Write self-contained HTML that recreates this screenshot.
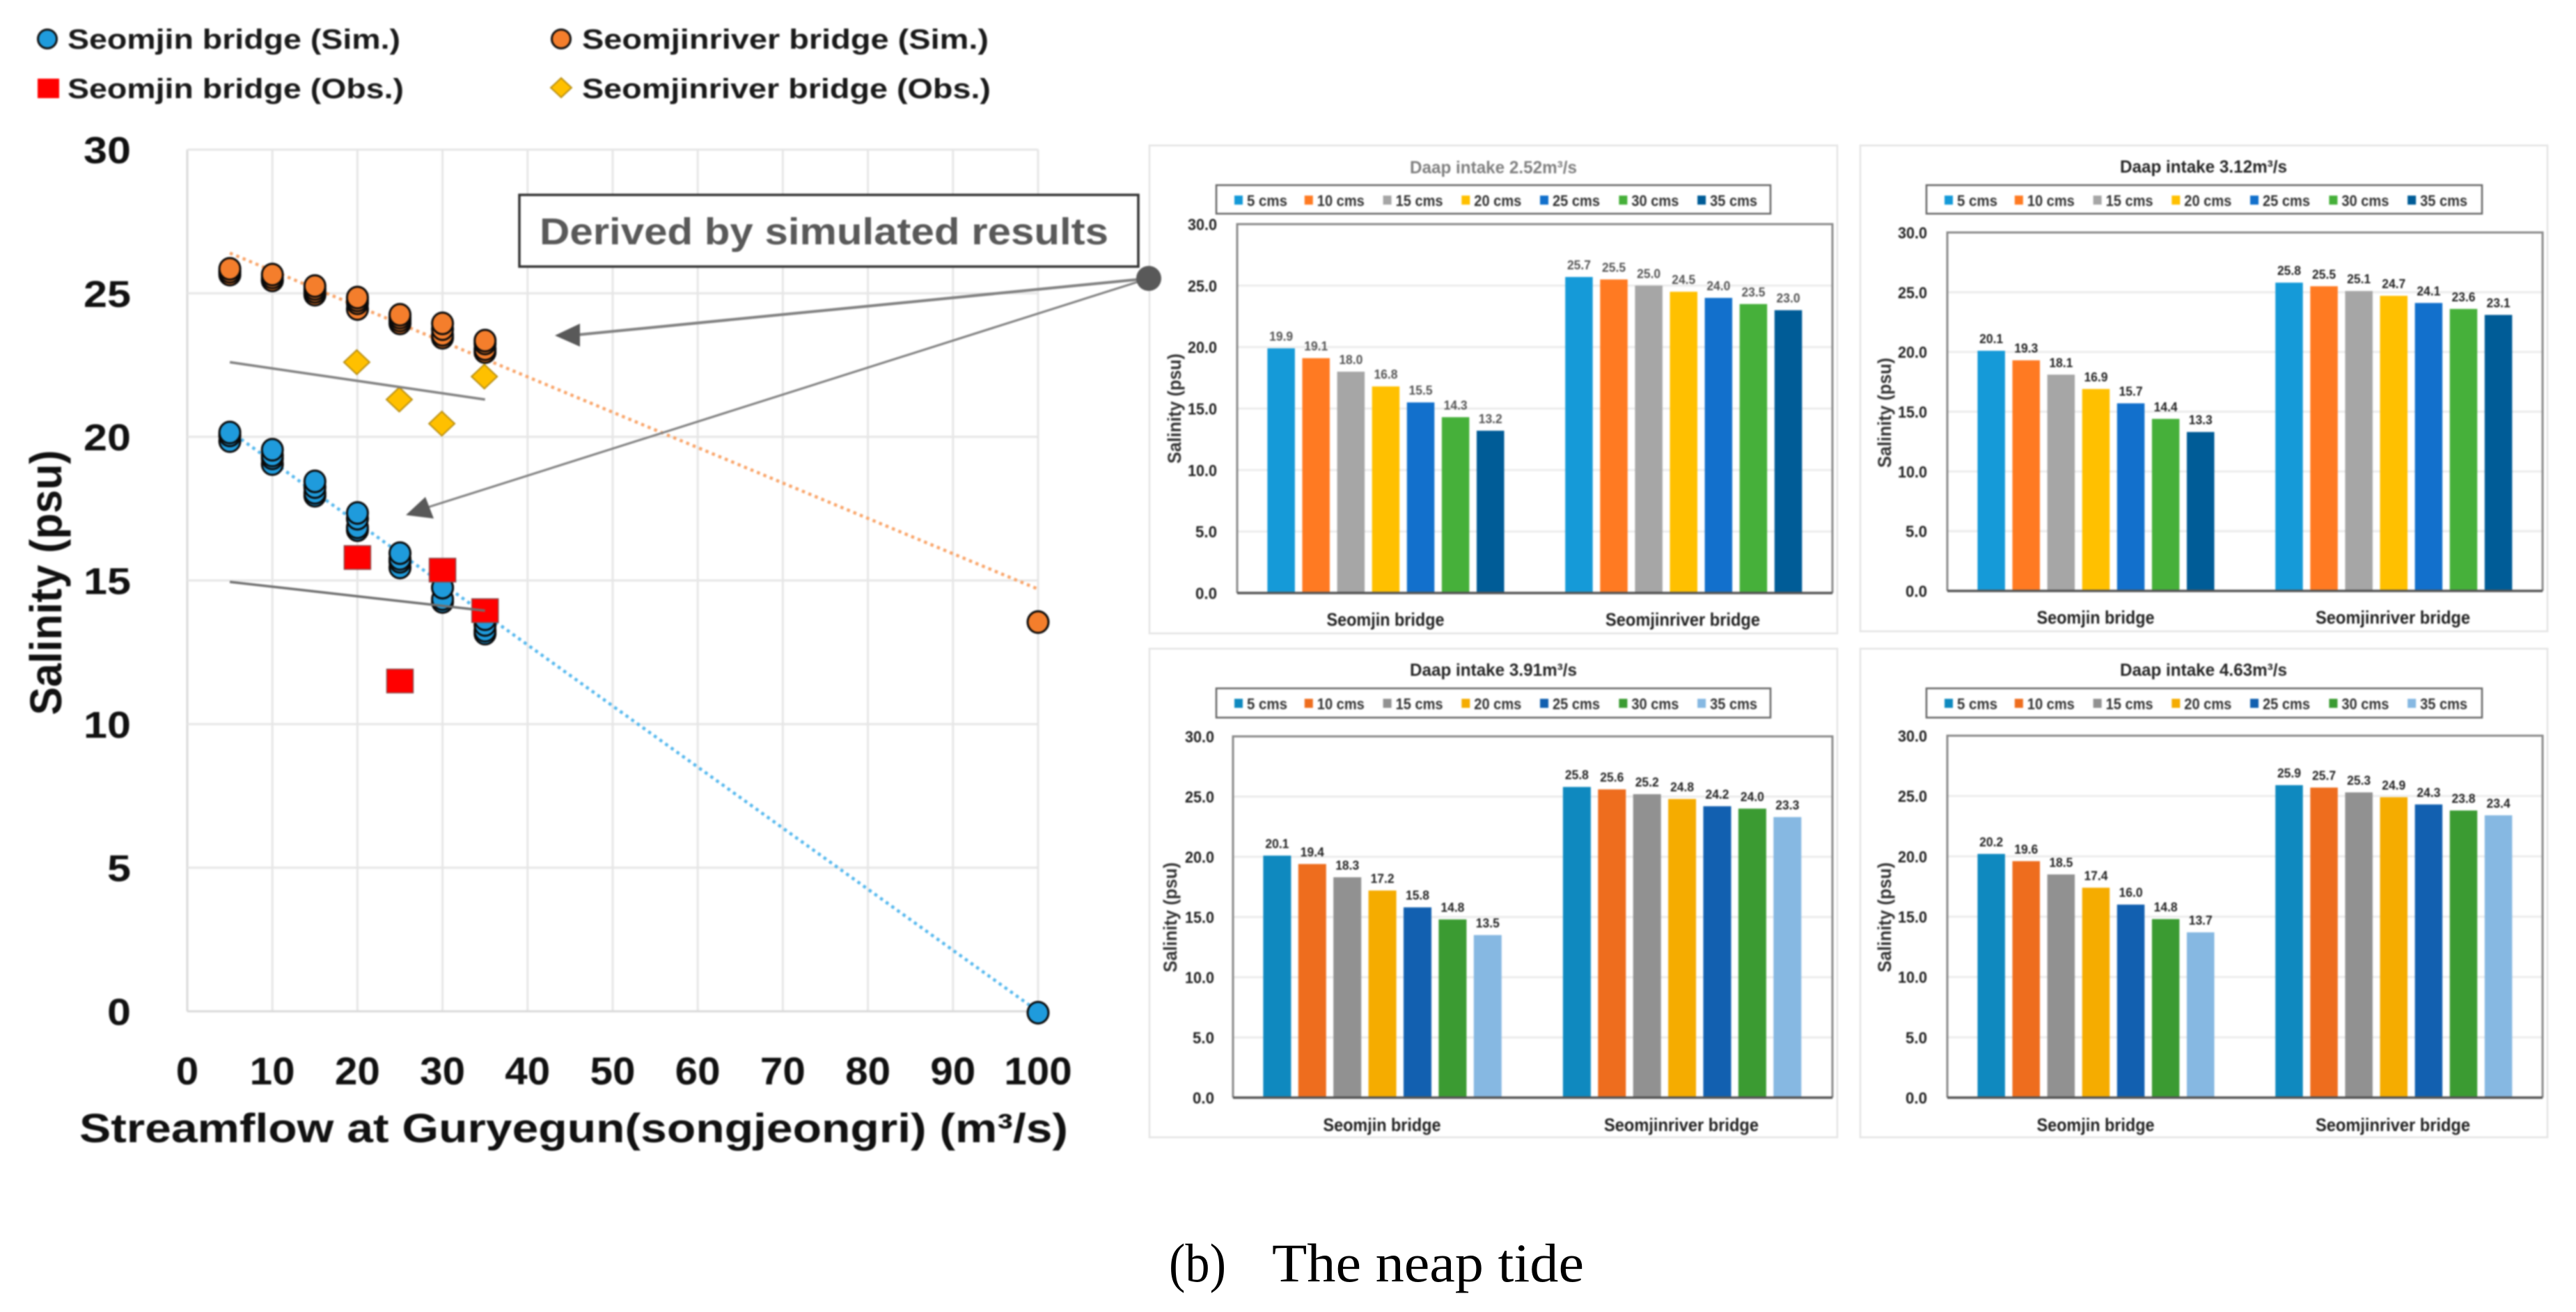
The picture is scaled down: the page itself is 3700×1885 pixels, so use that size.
<!DOCTYPE html>
<html lang="en">
<head>
<meta charset="utf-8">
<title>Salinity versus streamflow — the neap tide</title>
<style>
html,body{margin:0;padding:0;background:#fff;width:3700px;height:1885px;overflow:hidden}
svg{display:block}
text{font-family:"Liberation Sans",sans-serif;font-weight:bold}
.soft{filter:blur(1px)}
</style>
</head>
<body>
<svg id="figure" xmlns="http://www.w3.org/2000/svg" width="3700" height="1885" viewBox="0 0 3700 1885">
  <rect width="3700" height="1885" fill="#fff"/>
  <g id="panels" class="soft"></g>
  <g id="scatter" class="soft"></g>
  <text x="1679" y="1841" font-size="78" textLength="82" lengthAdjust="spacingAndGlyphs" style="font-family:'Liberation Serif',serif;font-weight:normal" fill="#000">(b)</text>
  <text x="1827" y="1841" font-size="78" textLength="448" lengthAdjust="spacingAndGlyphs" style="font-family:'Liberation Serif',serif;font-weight:normal" fill="#000">The neap tide</text>
</svg>
<script>
// ---------- scatter chart data ----------
const flowTicks = [0,10,20,30,40,50,60,70,80,90,100];
const salinityTicks = [0,5,10,15,20,25,30];
const simFlows = [5,10,15,20,25,30,35];
const seomjinSimExtremeFlow = [100];
const seomjinSimExtremeValue = [0];
const riverSimExtremeFlow = [100];
const riverSimExtremeValue = [13.6];
const seomjinObsFlows = [20,25,30,35];
const seomjinObsValues = [15.8,11.5,15.36,13.95];
const riverObsFlows = [20,25,30,35];
const riverObsValues = [22.6,21.3,20.46,22.1];
const seomjinTrendFlows = [5,100];
const seomjinTrendValues = [20.2,0];
const riverTrendFlows = [5,100];
const riverTrendValues = [26.4,14.7];
const seomjinObsTrendFlows = [5,35];
const seomjinObsTrendValues = [14.95,13.95];
const riverObsTrendFlows = [5,35];
const riverObsTrendValues = [22.6,21.3];

// ---------- bar panel data ----------
const barTicks = [0,5,10,15,20,25,30];
const barSeriesLabels = ['5 cms','10 cms','15 cms','20 cms','25 cms','30 cms','35 cms'];
const barCategories = ['Seomjin bridge','Seomjinriver bridge'];
const intakeTitles = ['Daap intake 2.52m³/s','Daap intake 3.12m³/s','Daap intake 3.91m³/s','Daap intake 4.63m³/s'];
const intake1Seomjin = [19.9,19.1,18.0,16.8,15.5,14.3,13.2];
const intake1River   = [25.7,25.5,25.0,24.5,24.0,23.5,23.0];
const intake2Seomjin = [20.1,19.3,18.1,16.9,15.7,14.4,13.3];
const intake2River   = [25.8,25.5,25.1,24.7,24.1,23.6,23.1];
const intake3Seomjin = [20.1,19.4,18.3,17.2,15.8,14.8,13.5];
const intake3River   = [25.8,25.6,25.2,24.8,24.2,24.0,23.3];
const intake4Seomjin = [20.2,19.6,18.5,17.4,16.0,14.8,13.7];
const intake4River   = [25.9,25.7,25.3,24.9,24.3,23.8,23.4];
const seomjinByIntake = [intake1Seomjin,intake2Seomjin,intake3Seomjin,intake4Seomjin];
const riverByIntake = [intake1River,intake2River,intake3River,intake4River];

// ---------- helpers ----------
const NS = 'http://www.w3.org/2000/svg';
function make(tag, props, parent){
  const n = document.createElementNS(NS, tag);
  for (const k in props) n.setAttribute(k, props[k]);
  parent.appendChild(n);
  return n;
}
function label(parent, str, x, y, size, fill, width, anchor, rotate){
  const props = {x:x, y:y, 'font-size':size, fill:fill, 'text-anchor':anchor || 'start'};
  if (width) { props.textLength = width; props.lengthAdjust = 'spacingAndGlyphs'; }
  if (rotate) props.transform = 'rotate(-90 ' + x + ' ' + y + ')';
  const t = make('text', props, parent);
  t.textContent = str;
  return t;
}

// ---------- scatter chart ----------
const sc = document.getElementById('scatter');
const xS = v => 269 + (v / 100) * 1222;
const yS = v => 1453 - (v / 30) * 1238;

function circle(cx, cy, fill, name){
  const c = make('ellipse', {cx:cx, cy:cy + 2, rx:15, ry:15.5, fill:fill, stroke:'#0a0a0a', 'stroke-width':3}, sc);
  
  
}
function square(cx, cy, w, h, name){
  const r = make('rect', {x:cx - w/2, y:cy - h/2, width:w, height:h, fill:'#ff0000', stroke:'#8a4a4a', 'stroke-width':1.5}, sc);
  
  
}
function diamond(cx, cy, w, h, name){
  const p = make('polygon', {points:[cx-w/2,cy, cx,cy-h/2, cx+w/2,cy, cx,cy+h/2].join(' '), fill:'#ffc000', stroke:'#b98f12', 'stroke-width':2}, sc);
  
  
}

flowTicks.forEach(v => {
  const g = make('line', {x1:xS(v), x2:xS(v), y1:yS(30), y2:yS(0), stroke:v === 0 ? '#d9d9d9' : '#e6e6e6', 'stroke-width':3}, sc);
  
  
  const t = label(sc, String(v), xS(v), 1558, 56, '#111', String(v).length * 32.5, 'middle');
  
  
});
salinityTicks.forEach(v => {
  const g = make('line', {x1:xS(0), x2:xS(100), y1:yS(v), y2:yS(v), stroke:v === 0 ? '#d9d9d9' : '#e6e6e6', 'stroke-width':3}, sc);
  
  
  const t = label(sc, String(v), 188, yS(v) + 19.5, 54, '#111', String(v).length * 34, 'end');
  
  
});

const xTitle = label(sc, 'Streamflow at Guryegun(songjeongri) (m³/s)', 114, 1641, 58, '#111', 1420);


const yTitle = label(sc, 'Salinity (psu)', 88, 837, 64, '#111', 381, 'middle', true);



const riverTrend = make('line', {x1:xS(riverTrendFlows[0]), y1:yS(riverTrendValues[0]), x2:xS(riverTrendFlows[1]), y2:yS(riverTrendValues[1]), stroke:'#f9a56a', 'stroke-width':4.5, 'stroke-dasharray':'4.5 5.5'}, sc);


const seomjinTrend = make('line', {x1:xS(seomjinTrendFlows[0]), y1:yS(seomjinTrendValues[0]), x2:xS(seomjinTrendFlows[1]), y2:yS(seomjinTrendValues[1]), stroke:'#55b8ee', 'stroke-width':4.5, 'stroke-dasharray':'4.5 5.5'}, sc);



// simulated points: every flow of every intake panel, lowest value first so the highest sits on top
function simColumn(series, flowIndex){
  return series.map(s => s[flowIndex]).sort((a,b) => a - b);
}
simFlows.forEach((f, i) => {
  simColumn(riverByIntake, i).forEach(v => circle(xS(f), yS(v), '#f47e2c', 'seomjinriver-sim-point'));
  simColumn(seomjinByIntake, i).forEach(v => circle(xS(f), yS(v), '#1f9bdc', 'seomjin-sim-point'));
});
riverSimExtremeFlow.forEach((f, i) => circle(xS(f), yS(riverSimExtremeValue[i]), '#f47e2c', 'seomjinriver-sim-point'));
seomjinSimExtremeFlow.forEach((f, i) => circle(xS(f), yS(seomjinSimExtremeValue[i]), '#1f9bdc', 'seomjin-sim-point'));

riverObsFlows.forEach((f, i) => diamond(xS(f) - 1, yS(riverObsValues[i]), 37, 35, 'seomjinriver-obs-point'));
seomjinObsFlows.forEach((f, i) => square(xS(f), yS(seomjinObsValues[i]), 38, 34, 'seomjin-obs-point'));

const riverObsTrend = make('line', {x1:xS(riverObsTrendFlows[0]), y1:yS(riverObsTrendValues[0]), x2:xS(riverObsTrendFlows[1]), y2:yS(riverObsTrendValues[1]), stroke:'#808080', 'stroke-width':3.5}, sc);


const seomjinObsTrend = make('line', {x1:xS(seomjinObsTrendFlows[0]), y1:yS(seomjinObsTrendValues[0]), x2:xS(seomjinObsTrendFlows[1]), y2:yS(seomjinObsTrendValues[1]), stroke:'#6f6f6f', 'stroke-width':3.5}, sc);



// legend
const lgA = make('ellipse', {cx:68, cy:56, rx:13.5, ry:13.5, fill:'#1f9bdc', stroke:'#111', 'stroke-width':3}, sc);


const lgB = make('ellipse', {cx:806, cy:56, rx:13.5, ry:13.5, fill:'#f47e2c', stroke:'#111', 'stroke-width':3}, sc);


const lgC = make('rect', {x:54, y:113, width:31, height:28, fill:'#ff0000'}, sc);


const lgD = make('polygon', {points:'791,126 806,112 821,126 806,140', fill:'#ffc000', stroke:'#b98f12', 'stroke-width':2}, sc);


const ltA = label(sc, 'Seomjin bridge (Sim.)', 97, 70, 40, '#1a1a1a', 478);


const ltB = label(sc, 'Seomjinriver bridge (Sim.)', 836, 70, 40, '#1a1a1a', 584);


const ltC = label(sc, 'Seomjin bridge (Obs.)', 97, 141, 40, '#1a1a1a', 483);


const ltD = label(sc, 'Seomjinriver bridge (Obs.)', 836, 141, 40, '#1a1a1a', 587);



// callout and arrows
const calloutBox = make('rect', {x:746, y:280, width:889, height:103, fill:'#fff', stroke:'#333', 'stroke-width':3.5}, sc);


const calloutText = label(sc, 'Derived by simulated results', 775, 351, 54, '#595959', 817);


const arrowLineA = make('line', {x1:1650, y1:400, x2:830, y2:481, stroke:'#808080', 'stroke-width':4}, sc);


const arrowHeadA = make('polygon', {points:'797,482 833,465 833,498', fill:'#595959'}, sc);


const arrowLineB = make('line', {x1:1650, y1:400, x2:614, y2:729, stroke:'#808080', 'stroke-width':3}, sc);


const arrowHeadB = make('polygon', {points:'583,740 611,714 623,745', fill:'#595959'}, sc);


const calloutDot = make('circle', {cx:1650, cy:400, r:18, fill:'#595959'}, sc);



// ---------- bar panels ----------
const brightColors = ['#159ad8','#ff7a22','#a6a6a6','#ffc000','#1270cc','#46b03a','#005c97'];
const deepColors = ['#0f89bf','#ee6d1e','#919191','#f5ac00','#1260b0','#3b9b32','#86b8e2'];
const swatchOffsets = [0,100.8,213.6,326.3,439,552.4,665.1];
const panelLayouts = [
  {bx:1651,by:209,bw:988,bh:701,px:1777,pr:2632,pt:322,pb:852,titleY:249,titleFill:'#808080',lgX:1747,lgY:266,lgW:796,lgH:41,tickR:1748,yTitleX:1696,yTitleY:587,barA:1820.4,barB:2248.2,step:50.1,barW:39.5,catY:899,catA:1990,catB:2417,titleX:2145,colors:brightColors},
  {bx:2672,by:209,bw:987,bh:698,px:2797,pr:3652,pt:334,pb:849,titleY:248,titleFill:'#262626',lgX:2767,lgY:266,lgW:798,lgH:41,tickR:2768,yTitleX:2716,yTitleY:593,barA:2840.4,barB:3268.2,step:50.1,barW:39.5,catY:896,catA:3010,catB:3437,titleX:3165,colors:brightColors},
  {bx:1651,by:932,bw:988,bh:702,px:1771,pr:2632,pt:1058,pb:1577,titleY:971,titleFill:'#262626',lgX:1747,lgY:989,lgW:796,lgH:42,tickR:1744,yTitleX:1690,yTitleY:1318,barA:1814.4,barB:2244.9,step:50.4,barW:40,catY:1625,catA:1985,catB:2415,titleX:2145,colors:deepColors},
  {bx:2672,by:932,bw:987,bh:702,px:2797,pr:3652,pt:1057,pb:1577,titleY:971,titleFill:'#262626',lgX:2767,lgY:989,lgW:798,lgH:42,tickR:2768,yTitleX:2716,yTitleY:1318,barA:2840.4,barB:3268.2,step:50.1,barW:39.5,catY:1625,catA:3010,catB:3437,titleX:3165,colors:deepColors}
];
const panelsRoot = document.getElementById('panels');

panelLayouts.forEach((L, idx) => {
  const g = make('g', {}, panelsRoot);
  
  

  const frame = make('rect', {x:L.bx, y:L.by, width:L.bw, height:L.bh, fill:'#fff', stroke:'#e4e4e4', 'stroke-width':2.5}, g);
  
  

  const title = label(g, intakeTitles[idx], L.titleX, L.titleY, 25, L.titleFill, 240, 'middle');
  
  

  const lgBox = make('rect', {x:L.lgX, y:L.lgY, width:L.lgW, height:L.lgH, fill:'#fff', stroke:'#666', 'stroke-width':2.5}, g);
  
  
  barSeriesLabels.forEach((name, i) => {
    const sx = L.lgX + 26 + swatchOffsets[i];
    const sw = make('rect', {x:sx, y:L.lgY + 15, width:12, height:13, fill:L.colors[i]}, g);
    
    
    const t = label(g, name, sx + 18, L.lgY + 30, 22, '#333', i === 0 ? 58 : 68);
    
    
  });

  const yB = v => L.pb - (v / 30) * (L.pb - L.pt);

  barTicks.forEach(v => {
    if (v > 0 && v < 30) {
      const gl = make('line', {x1:L.px, x2:L.pr, y1:yB(v), y2:yB(v), stroke:'#ececec', 'stroke-width':3}, g);
      
      
    }
    const tk = label(g, v.toFixed(1), L.tickR, yB(v) + 8.5, 23, '#222', v >= 10 ? 42 : 31, 'end');
    
    
  });

  const plotBorder = make('polyline', {points:[L.px,L.pb, L.px,L.pt, L.pr,L.pt, L.pr,L.pb].join(' '), fill:'none', stroke:'#8a8a8a', 'stroke-width':3}, g);
  
  

  const yt = label(g, 'Salinity (psu)', L.yTitleX, L.yTitleY, 27, '#333', 158, 'middle', true);
  
  

  [seomjinByIntake[idx], riverByIntake[idx]].forEach((vals, c) => {
    const start = c === 0 ? L.barA : L.barB;
    vals.forEach((v, i) => {
      const x = start + i * L.step;
      const b = make('rect', {x:x, y:yB(v), width:L.barW, height:L.pb - yB(v), fill:L.colors[i]}, g);
      
      
      const vl = label(g, v.toFixed(1), x + L.barW / 2, yB(v) - 11, 18, idx === 0 ? '#555' : '#222', 34, 'middle');
      
      
    });
    const cat = label(g, barCategories[c], c === 0 ? L.catA : L.catB, L.catY, 26, '#222', c === 0 ? 169 : 222, 'middle');
    
    
  });

  const axis = make('line', {x1:L.px, x2:L.pr, y1:L.pb, y2:L.pb, stroke:'#555', 'stroke-width':3.5}, g);
  
  
});
</script>
</body>
</html>
